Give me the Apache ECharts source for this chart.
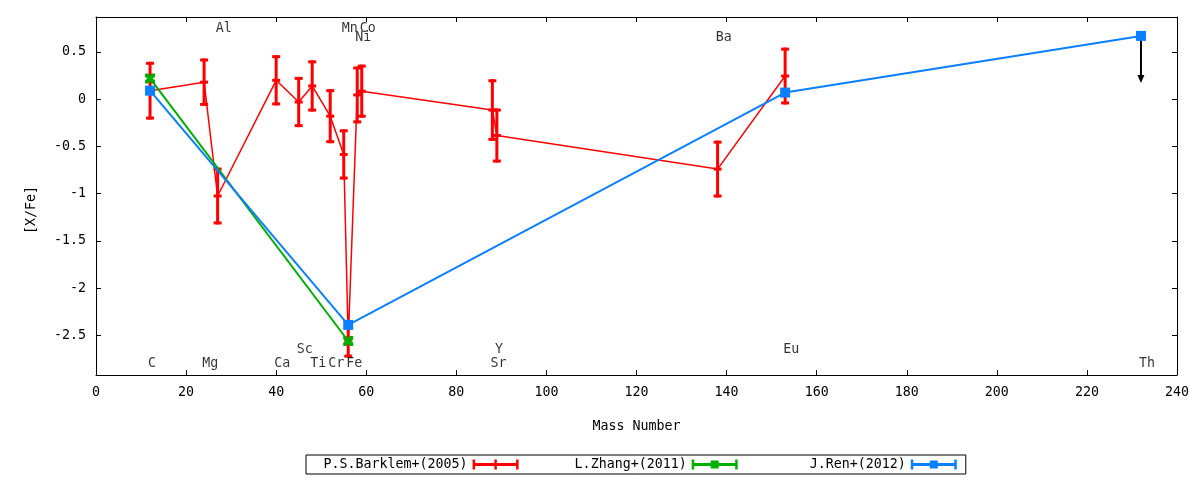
<!DOCTYPE html>
<html>
<head>
<meta charset="utf-8">
<script src="https://cdn.jsdelivr.net/npm/echarts@6/dist/echarts.min.js"></script>
<style>
html, body { margin: 0; padding: 0; background: #fff; }
#chart { width: 1200px; height: 480px; }
</style>
</head>
<body>
<div id="chart"></div>
<script>
// P.S.Barklem+(2005): mass number, [X/Fe], error
var barklemMass = [12, 24, 27, 40, 45, 48, 52, 55, 56, 58, 59, 88, 89, 138, 153];
var barklemVal = [0.09, 0.18, -1.025, 0.2, -0.03, 0.14, -0.18, -0.585, -2.55, 0.045, 0.085, -0.115, -0.385, -0.74, 0.245];
var barklemErr = [0.29, 0.235, 0.285, 0.25, 0.25, 0.255, 0.27, 0.25, 0.17, 0.285, 0.265, 0.31, 0.27, 0.285, 0.285];

// L.Zhang+(2011)
var zhangMass = [12, 56];
var zhangVal = [0.22, -2.56];

// J.Ren+(2012)
var renMass = [12, 56, 153, 232];
var renVal = [0.09, -2.39, 0.07, 0.67];

// Th upper limit arrow: from value down to tip
var limitMass = [232];
var limitFrom = [0.67];
var limitTo = [0.17];

// element labels
var elementName = ['C', 'Mg', 'Al', 'Ca', 'Sc', 'Ti', 'Cr', 'Mn', 'Fe', 'Ni', 'Co', 'Sr', 'Y', 'Ba', 'Eu', 'Th'];
var elementMass = [12, 24, 27, 40, 45, 48, 52, 55, 56, 58, 59, 88, 89, 138, 153, 232];
var elementLabelY = [-2.8, -2.8, 0.75, -2.8, -2.65, -2.8, -2.8, 0.75, -2.8, 0.65, 0.75, -2.8, -2.65, 0.65, -2.65, -2.8];

var yTicks = [-2.5, -2, -1.5, -1, -0.5, 0, 0.5];

var seriesNames = ['P.S.Barklem+(2005)', 'L.Zhang+(2011)', 'J.Ren+(2012)'];

var RED = '#ff0000', GREEN = '#00b000', BLUE = '#0a80ff';
var FONT = 'DejaVu Sans Mono';

function zip(a, b, c) {
    var out = [];
    for (var i = 0; i < a.length; i++) {
        out.push(c ? [a[i], b[i], c[i]] : [a[i], b[i]]);
    }
    return out;
}

function errorBarItem(color) {
    return function(params, api) {
        var x = api.value(0), y = api.value(1), e = api.value(2);
        var c = api.coord([x, y]);
        var hi = api.coord([x, y + e]);
        var lo = api.coord([x, y - e]);
        var w = 4;
        var style = { stroke: color, lineWidth: 3 };
        return {
            type: 'group',
            children: [
                { type: 'line', shape: { x1: c[0], y1: hi[1] - 1.5, x2: c[0], y2: lo[1] + 1.5 }, style: style },
                { type: 'line', shape: { x1: c[0] - w, y1: hi[1], x2: c[0] + w, y2: hi[1] }, style: style },
                { type: 'line', shape: { x1: c[0] - w, y1: lo[1], x2: c[0] + w, y2: lo[1] }, style: style },
                { type: 'line', shape: { x1: c[0] - w, y1: c[1], x2: c[0] + w, y2: c[1] }, style: style }
            ]
        };
    };
}

function arrowItem(params, api) {
    var a = api.coord([api.value(0), api.value(1)]);
    var b = api.coord([api.value(0), api.value(2)]);
    return {
        type: 'group',
        children: [
            { type: 'line', shape: { x1: a[0], y1: a[1], x2: b[0], y2: b[1] - 4 }, style: { stroke: '#000', lineWidth: 2 } },
            { type: 'polygon', shape: { points: [[b[0] - 3.5, b[1] - 8], [b[0] + 3.5, b[1] - 8], [b[0], b[1]]] }, style: { fill: '#000' } }
        ]
    };
}

var bowtie = 'path://M0,0 L3.5,0 L5,2.5 L6.5,0 L10,0 L10,3.5 L7.5,5 L10,6.5 L10,10 L6.5,10 L5,7.5 L3.5,10 L0,10 L0,6.5 L2.5,5 L0,3.5 Z';

var barLine = 'M0,3.5 H46 V6.5 H0 Z M0,0 H2.5 V10 H0 Z M43.5,0 H46 V10 H43.5 Z';
var iconRed = 'path://' + barLine + ' M21.75,0 H24.25 V10 H21.75 Z';
var iconGreen = 'path://' + barLine + ' M19,1 H27 V9 H19 Z';
var iconBlue = 'path://' + barLine + ' M19,1 H27 V9 H19 Z';

function padName(name) {
    while (name.length < 18) name = ' ' + name;
    return name;
}

var labelData = [];
for (var i = 0; i < elementName.length; i++) {
    labelData.push([elementMass[i], elementLabelY[i], elementName[i]]);
}

var axisLineStyle = { show: true, onZero: false, lineStyle: { color: '#000', width: 1 } };
var tickStyle = { show: true, inside: true, length: 5, lineStyle: { color: '#000' } };

var chart = echarts.init(document.getElementById('chart'));

chart.setOption({
    animation: false,
    backgroundColor: '#fff',
    textStyle: { fontFamily: FONT, fontSize: 13.3, color: '#000' },
    grid: { left: 96, right: 23, top: 17, bottom: 105 },
    legend: {
        left: 306,
        top: 455,
        align: 'right',
        itemWidth: 46,
        itemHeight: 10,
        itemGap: 24,
        padding: [3, 9, 3, 17.5],
        borderColor: '#000',
        borderWidth: 1,
        selectedMode: false,
        formatter: padName,
        textStyle: { fontFamily: FONT, fontSize: 13.3, color: '#000' },
        data: [
            { name: seriesNames[0], icon: iconRed, itemStyle: { color: RED } },
            { name: seriesNames[1], icon: iconGreen, itemStyle: { color: GREEN } },
            { name: seriesNames[2], icon: iconBlue, itemStyle: { color: BLUE } }
        ]
    },
    graphic: [{
        type: 'text',
        x: 32,
        y: 210,
        rotation: Math.PI / 2,
        style: {
            text: '[X/Fe]',
            font: '13.3px "DejaVu Sans Mono"',
            fill: '#000',
            align: 'center',
            verticalAlign: 'middle'
        }
    }],
    xAxis: [{
        type: 'value',
        min: 0,
        max: 240,
        interval: 20,
        name: 'Mass Number',
        nameLocation: 'middle',
        nameGap: 45,
        nameTextStyle: { fontFamily: FONT, fontSize: 13.3, color: '#000' },
        axisLine: axisLineStyle,
        axisTick: tickStyle,
        axisLabel: { margin: 11, color: '#000', fontFamily: FONT, fontSize: 13.3 },
        splitLine: { show: false }
    }, {
        type: 'value',
        position: 'top',
        min: 0,
        max: 240,
        interval: 20,
        axisLine: axisLineStyle,
        axisTick: tickStyle,
        axisLabel: { show: false },
        splitLine: { show: false }
    }],
    yAxis: [{
        type: 'value',
        min: -2.92,
        max: 0.87,
        axisLine: axisLineStyle,
        axisTick: { show: true, inside: true, length: 5, customValues: yTicks, lineStyle: { color: '#000' } },
        axisLabel: {
            customValues: yTicks,
            margin: 10,
            color: '#000',
            fontFamily: FONT,
            fontSize: 13.3,
            formatter: function(v) { return String(v); }
        },
        splitLine: { show: false }
    }, {
        type: 'value',
        position: 'right',
        min: -2.92,
        max: 0.87,
        axisLine: axisLineStyle,
        axisTick: { show: true, inside: true, length: 5, customValues: yTicks, lineStyle: { color: '#000' } },
        axisLabel: { show: false },
        splitLine: { show: false }
    }],
    series: [{
        name: seriesNames[0],
        type: 'line',
        data: zip(barklemMass, barklemVal),
        showSymbol: false,
        symbol: 'none',
        color: RED,
        lineStyle: { color: RED, width: 1.5 },
        z: 2
    }, {
        name: seriesNames[0],
        type: 'custom',
        data: zip(barklemMass, barklemVal, barklemErr),
        renderItem: errorBarItem(RED),
        encode: { x: 0, y: 1 },
        color: RED,
        z: 2
    }, {
        name: seriesNames[1],
        type: 'line',
        data: zip(zhangMass, zhangVal),
        symbol: bowtie,
        symbolSize: 10,
        color: GREEN,
        itemStyle: { color: GREEN },
        lineStyle: { color: GREEN, width: 2 },
        z: 3
    }, {
        name: 'limit',
        type: 'custom',
        data: zip(limitMass, limitFrom, limitTo),
        renderItem: arrowItem,
        encode: { x: 0, y: [1, 2] },
        z: 3
    }, {
        name: seriesNames[2],
        type: 'line',
        data: zip(renMass, renVal),
        symbol: 'rect',
        symbolSize: 10,
        color: BLUE,
        itemStyle: { color: BLUE },
        lineStyle: { color: BLUE, width: 2 },
        z: 4
    }, {
        name: 'elements',
        type: 'scatter',
        data: labelData,
        symbolSize: 0.1,
        itemStyle: { color: 'transparent' },
        silent: true,
        label: {
            show: true,
            position: 'right',
            distance: 0,
            offset: [-2, 0],
            color: '#000',
            fontFamily: FONT,
            fontSize: 13.3,
            formatter: function(p) { return p.value[2]; }
        },
        z: 5
    }]
});
</script>
</body>
</html>
